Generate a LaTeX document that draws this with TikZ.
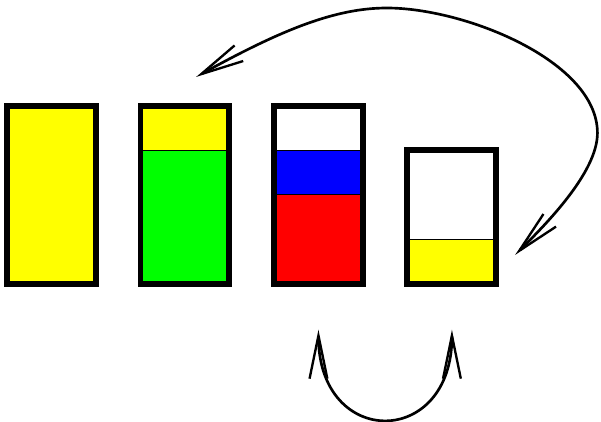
\documentclass[tikz,border=0pt]{standalone}
\usetikzlibrary{arrows.meta}

\definecolor{cellyellow}{RGB}{255,255,0}
\definecolor{cellgreen}{RGB}{0,255,0}
\definecolor{cellblue}{RGB}{0,0,255}
\definecolor{cellred}{RGB}{255,0,0}

\begin{document}
\begin{tikzpicture}[line join=miter, >={Straight Barb[length=0.97cm, width=0.4cm, line width=1.5pt]}]
    \useasboundingbox (-0.157,-3.10) rectangle (13.35,6.38);

    % Cell Fills
    \fill[cellyellow] (0,0) rectangle (2,4);
    \fill[cellgreen]  (3,0) rectangle (5,3);
    \fill[cellyellow] (3,3) rectangle (5,4);
    \fill[cellred]    (6,0) rectangle (8,2);
    \fill[cellblue]   (6,2) rectangle (8,3);
    \fill[cellyellow] (9,0) rectangle (11,1);

    % Thin Dividers
    \draw[line width=0.6pt] (3,3) -- (5,3);
    \draw[line width=0.6pt] (6,3) -- (8,3);
    \draw[line width=0.6pt] (6,2) -- (8,2);
    \draw[line width=0.6pt] (9,1) -- (11,1);

    % Container Walls
    \foreach \x in {0,3,6} \draw[line width=3.8pt] (\x,0) rectangle ++(2,4);
    \draw[line width=3.8pt] (9,0) rectangle ++(2,3);

    % Coordinates for the arrow ends
    \coordinate (A) at (4.25,4.65);
    \coordinate (T) at (8.54,6.2);
    \coordinate (M) at (13.27,3.39);
    \coordinate (B) at (11.42,0.65);
    \coordinate (C) at (7,-1.03);
    \coordinate (D) at (10,-1.03);

    % Arrows
    \draw[<->, line width=1.7pt] (A) .. controls (6.2,5.73) and (7.4,6.2) .. (T)
        .. controls (10.3,6.2) and (13.27,5.0) .. (M)
        .. controls (13.27,2.5) and (12.1,1.33) .. (B);
    \draw[<->, line width=1.7pt] (C) .. controls (7,-3.71) and (10,-3.71) .. (D);

\end{tikzpicture}
\end{document}
